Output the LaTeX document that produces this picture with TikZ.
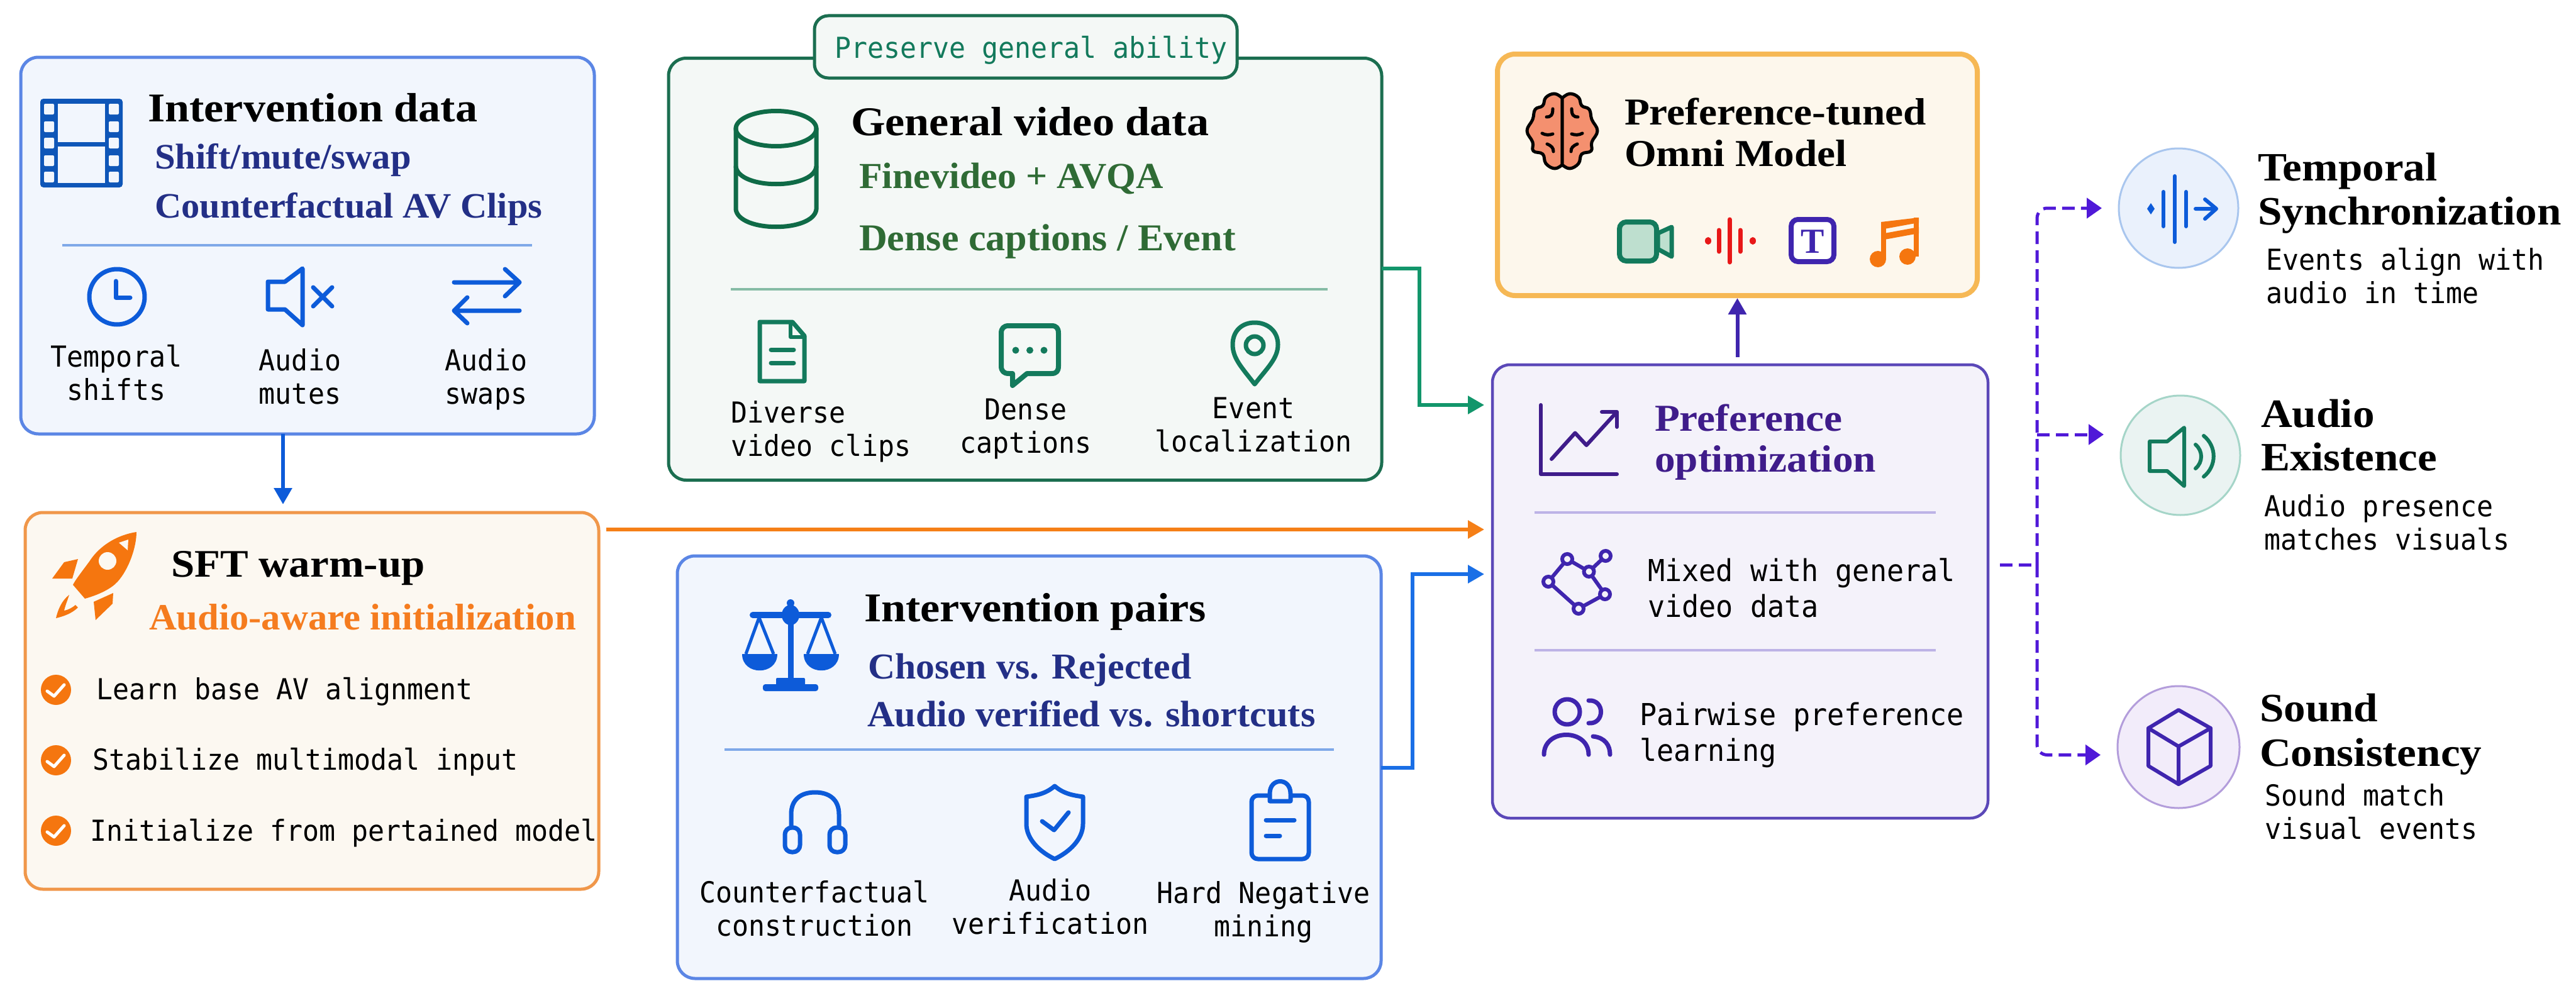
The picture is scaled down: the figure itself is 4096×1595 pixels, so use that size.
\documentclass[tikz,border=0pt]{standalone}
\usepackage{fontspec}
\usetikzlibrary{arrows.meta,calc}
\setmainfont{Liberation Serif}
\newfontfamily\ttlfam[FakeStretch=1.08]{Liberation Serif}
\newfontfamily\subfam[FakeStretch=1.03]{Liberation Serif}
\newfontfamily\monofam[FakeStretch=0.94]{DejaVu Sans Mono}
\newcommand\TT[2]{\ttlfam\bfseries\fontsize{#1}{#2}\selectfont}
\newcommand\SB[1]{\subfam\bfseries\fontsize{#1}{#1}\selectfont}
\newcommand\MN[2]{\monofam\fontsize{#1}{#2}\selectfont}
\definecolor{iblue}{HTML}{0D5BD9}
\definecolor{iblued}{HTML}{0F56B8}
\definecolor{bbord}{HTML}{5B86E5}
\definecolor{bfill}{HTML}{F2F6FD}
\definecolor{bsub}{HTML}{232F86}
\definecolor{bdiv}{HTML}{7FA8E8}
\definecolor{obord}{HTML}{F0974A}
\definecolor{ofill}{HTML}{FCF8F1}
\definecolor{oicon}{HTML}{F5760F}
\definecolor{osub}{HTML}{F57C1F}
\definecolor{gbord}{HTML}{1B6E50}
\definecolor{gfill}{HTML}{F4F8F6}
\definecolor{gsub}{HTML}{2F6B35}
\definecolor{gdiv}{HTML}{85BBA5}
\definecolor{gicon}{HTML}{137A5C}
\definecolor{gdark}{HTML}{0F6B47}
\definecolor{gconn}{HTML}{12966B}
\definecolor{vidfill}{HTML}{BEDFCF}
\definecolor{yboard}{HTML}{F6B855}
\definecolor{yfill}{HTML}{FDF7EC}
\definecolor{pbord}{HTML}{5B48B8}
\definecolor{pfill}{HTML}{F4F2FA}
\definecolor{psub}{HTML}{3F1C8A}
\definecolor{pdiv}{HTML}{BDB3E6}
\definecolor{picon}{HTML}{3F25AE}
\definecolor{pdash}{HTML}{5019D8}
\definecolor{oconn}{HTML}{F57F17}
\definecolor{bconn}{HTML}{1A6FE6}
\definecolor{brainf}{HTML}{F4906F}
\definecolor{wavered}{HTML}{E81818}
\definecolor{hbf}{HTML}{EAF1FC}
\definecolor{hbd}{HTML}{A9C6EE}
\definecolor{hgf}{HTML}{EAF3F2}
\definecolor{hgd}{HTML}{A5D5C8}
\definecolor{hpf}{HTML}{F2ECFA}
\definecolor{hpd}{HTML}{B39DDB}
\tikzset{
 panel/.style={draw,rounded corners=28,line width=5,inner sep=0,outer sep=0},
 ttl/.style={anchor=base west,inner sep=0,outer sep=0,align=left,text=black},
 subt/.style={anchor=base west,inner sep=0,outer sep=0},
 lab/.style={anchor=base,inner sep=0,outer sep=0,align=center,text=black,font=\MN{46}{53}},
 labl/.style={anchor=base west,inner sep=0,outer sep=0,align=left,text=black,font=\MN{46}{53}},
 divd/.style={line width=4},
 conn/.style={line width=6,-{Triangle[length=26,width=28]}},
 dashc/.style={pdash,line width=5,dash pattern=on 20pt off 10pt,-{Triangle[length=24,width=32]},rounded corners=16},
 icon/.style={line width=7,line cap=round,line join=round},
 halo/.style={circle,draw,line width=3,inner sep=0,outer sep=0,minimum size=190},
}
\begin{document}
\begin{tikzpicture}[x=1pt,y=-1pt]
\useasboundingbox (0,0) rectangle (4096,1595);
\fill[white] (0,0) rectangle (4096,1595);

% panels
\node[panel,draw=bbord,fill=bfill,minimum width=912,minimum height=599] (b1) at (489,390.5) {};
\node[panel,draw=obord,fill=ofill,minimum width=912,minimum height=599] (b2) at (496,1114.5) {};
\node[panel,draw=gbord,fill=gfill,minimum width=1134,minimum height=671] (b3) at (1630,428) {};
\node[panel,draw=gbord,fill=gfill,rounded corners=22,minimum width=672,minimum height=99] (tag) at (1631,74.5) {};
\node[panel,draw=bbord,fill=bfill,minimum width=1119,minimum height=672] (b4) at (1636.5,1220) {};
\node[panel,draw=yboard,fill=yfill,line width=8,minimum width=763,minimum height=384] (b5) at (2762.5,278) {};
\node[panel,draw=pbord,fill=pfill,line width=4.5,minimum width=788,minimum height=721] (b6) at (2767,940.5) {};
\node[halo,draw=hbd,fill=hbf] (c1) at (3464,331) {};
\node[halo,draw=hgd,fill=hgf] (c2) at (3467,724) {};
\node[halo,draw=hpd,fill=hpf,minimum size=194] (c3) at (3464,1188) {};

% helper coordinates for connectors
\coordinate (xa) at (450,0);
\coordinate (yo) at (0,842);
\coordinate (yg) at (0,427);
\coordinate (yg2) at (0,644);
\coordinate (xg) at (2257,0);
\coordinate (yb) at (0,1221);
\coordinate (yb2) at (0,913);
\coordinate (xb) at (2246,0);
\coordinate (j) at (3239,898);
\coordinate (ym) at (0,691);
\coordinate (yl) at (0,1200.5);

% connectors
\draw[conn,iblue,shorten >=13] (b1.south -| xa) -- (b2.north -| xa);
\draw[conn,oconn,shorten <=12,shorten >=13] (b2.east |- yo) -- (b6.west |- yo);
\draw[conn,gconn,shorten >=13] (b3.east |- yg) -- (xg |- yg) -- (xg |- yg2) -- (b6.west |- yg2);
\draw[conn,bconn,shorten >=13] (b4.east |- yb) -- (xb |- yb) -- (xb |- yb2) -- (b6.west |- yb2);
\draw[conn,picon,shorten <=12,shorten >=4] (b6.north -| b5.south) -- (b5.south);
\draw[dashc,-,shorten <=19] (b6.east |- j) -- (j);
\draw[dashc,shorten >=27] (j) |- (c1.west);
\draw[dashc,shorten >=27] (j |- ym) -- (c2.west |- ym);
\draw[dashc,shorten >=27] (j) |- (c3.west |- yl);

% ---------- Intervention data
\node[ttl,font=\TT{65}{70}] (t1) at (235,193) {Intervention data};
\node[subt,font=\SB{57},text=bsub] (s1a) at (246,268) {Shift/mute/swap};
\node[subt,font=\SB{56.8},text=bsub] (s1b) at (246,346) {Counterfactual AV Clips};
\draw[divd,bdiv] (99,390) -- (846,390);
% film
\fill[iblued,rounded corners=5] (64,157) rectangle (195,298);
\fill[bfill] (92,165) rectangle (167,226);
\fill[bfill] (92,233) rectangle (167,291);
\foreach \yy in {165,193,219,247,273}{
 \fill[bfill,rounded corners=2] (70,\yy) rectangle (86,\yy+17);
 \fill[bfill,rounded corners=2] (173,\yy) rectangle (189,\yy+17);
}
% clock
\draw[icon,iblue] (186,472) circle (44);
\draw[icon,iblue] (184,447) -- (184,473) -- (207,473);
% mute
\draw[icon,iblue] (426,448) -- (453,448) -- (481,427) -- (481,517) -- (453,492) -- (426,492) -- cycle;
\draw[icon,iblue] (498,457) -- (528,487) (528,457) -- (498,487);
% swap
\draw[icon,iblue] (722,449) -- (826,449) (803,428) -- (826,449) -- (803,471);
\draw[icon,iblue] (826,494) -- (722,494) (743,473) -- (722,494) -- (743,514);
\node[lab] (l1a) at (185,636) {Temporal\\shifts};
\node[lab] (l1b) at (477,642) {Audio\\mutes};
\node[lab] (l1c) at (773,642) {Audio\\swaps};

% ---------- SFT warm-up
\node[ttl,font=\TT{62}{70}] (t2) at (272,917) {SFT warm-up};
\node[subt,font=\SB{59},text=osub] (s2) at (237,1001) {Audio-aware initialization};
% rocket
\fill[oicon] (217,846) .. controls (190,850) and (160,865) .. (142,893) .. controls (128,912) and (120,922) .. (116,930) -- (135,952) .. controls (160,945) and (178,935) .. (187,925) .. controls (205,905) and (217,870) .. (217,846) -- cycle;
\fill[ofill] (171,892) circle (14);
\fill[ofill] (204,858) -- (189,863) -- (203,875) -- cycle;
\fill[oicon] (124,889) -- (102,894) -- (83,920) -- (115,920) -- cycle;
\fill[oicon] (180,943) -- (149,957) -- (152,986) -- (179,960) -- cycle;
\fill[oicon] (110,946) .. controls (98,955) and (92,970) .. (89,983) .. controls (102,980) and (115,975) .. (124,966) -- (120,962) .. controls (114,967) and (108,970) .. (102,971) .. controls (104,962) and (108,953) .. (110,946) -- cycle;
% check bullets
\foreach \yy in {1097,1209,1321}{
 \fill[oicon] (89,\yy) circle (24);
 \draw[white,line width=5,line cap=round,line join=round] (75,\yy+2) -- (86,\yy+10) -- (102,\yy-8);
}
\node[labl] (l2a) at (153,1112) {Learn base AV alignment};
\node[labl] (l2b) at (147,1224) {Stabilize multimodal input};
\node[labl] (l2c) at (143,1337) {Initialize from pertained model};

% ---------- General video data
\node[subt,font=\MN{46}{53},text=gicon] (tagt) at (1327,92.5) {Preserve general ability};
\node[ttl,font=\TT{65}{70}] (t3) at (1353,215) {General video data};
\node[subt,font=\SB{58.3},text=gsub] (s3a) at (1366,299) {Finevideo + AVQA};
\node[subt,font=\SB{60.3},text=gsub] (s3b) at (1366,398) {Dense captions / Event};
\draw[divd,gdiv] (1162,460) -- (2111,460);
% cylinder
\draw[icon,gdark] (1234,176.5) .. controls (1269,176.5) and (1298,189) .. (1298,204.5) .. controls (1298,220) and (1269,232.5) .. (1234,232.5) .. controls (1199,232.5) and (1170,220) .. (1170,204.5) .. controls (1170,189) and (1199,176.5) .. (1234,176.5) -- cycle;
\draw[icon,gdark] (1170,204) -- (1170,333) .. controls (1175,370) and (1293,370) .. (1298,333) -- (1298,204);
\draw[icon,gdark] (1170,265) .. controls (1175,302) and (1293,302) .. (1298,265);
% doc
\draw[icon,gicon,line width=7] (1260,512) -- (1216,512) -- (1208,512) -- (1208,606) -- (1279,606) -- (1279,534) -- cycle;
\draw[icon,gicon,line width=6] (1257,512) -- (1257,536) -- (1279,536);
\draw[icon,gicon,line width=7] (1226,556) -- (1262,556) (1226,577) -- (1262,577);
% chat
\draw[icon,gicon,line width=8,line join=round] (1633,594) -- (1672,594) .. controls (1680,594) and (1683,590) .. (1683,582) -- (1683,530) .. controls (1683,522) and (1680,518) .. (1672,518) -- (1604,518) .. controls (1596,518) and (1592,522) .. (1592,530) -- (1592,582) .. controls (1592,590) and (1596,594) .. (1604,594) -- (1610,594) -- (1610,613) -- cycle;
\foreach \xx in {1615,1637.5,1660}{\fill[gicon] (\xx,557) circle (5.5);}
% pin
\draw[icon,gicon,line width=7] (1995,611) .. controls (1975,585) and (1960,570) .. (1960,548) .. controls (1960,526) and (1975,513) .. (1995,513) .. controls (2015,513) and (2032,526) .. (2032,548) .. controls (2032,570) and (2015,585) .. (1995,611) -- cycle;
\draw[gicon,line width=7] (1995,549) circle (14);
\node[labl] (l3a) at (1162,725) {Diverse\\video clips};
\node[lab] (l3b) at (1631,720) {Dense\\captions};
\node[lab] (l3c) at (1993,718) {Event\\localization};

% ---------- Intervention pairs
\node[ttl,font=\TT{65}{70}] (t4) at (1374,988) {Intervention pairs};
\node[subt,font=\SB{58},text=bsub] (s4a) at (1380,1079) {Chosen vs. Rejected};
\node[subt,font=\SB{58.6},text=bsub] (s4b) at (1379,1155) {Audio verified vs. shortcuts};
\draw[divd,bdiv] (1152,1192) -- (2121,1192);
% scales
\draw[iblue,line width=9] (1257,956) -- (1257,1086);
\draw[iblue,line width=10,line cap=round] (1197,978) -- (1317,978);
\fill[iblue] (1257,978) ellipse (14 and 16);
\fill[iblue] (1257,959) circle (6);
\draw[iblue,line width=5,line join=round] (1186,1040) -- (1207,982) -- (1230,1040);
\draw[iblue,line width=5,line join=round] (1284,1040) -- (1306,982) -- (1328,1040);
\fill[iblue] (1180,1040) -- (1236,1040) .. controls (1236,1075) and (1180,1075) .. (1180,1040) -- cycle;
\fill[iblue] (1278,1040) -- (1334,1040) .. controls (1334,1075) and (1278,1075) .. (1278,1040) -- cycle;
\fill[iblue,rounded corners=2] (1234,1078) rectangle (1280,1092);
\fill[iblue,rounded corners=4] (1213,1088) rectangle (1301,1099);
% headphones
\draw[icon,iblue] (1258,1316) -- (1258,1295) .. controls (1258,1270) and (1275,1260) .. (1296,1260) .. controls (1317,1260) and (1334,1270) .. (1334,1295) -- (1334,1316);
\draw[icon,iblue,rounded corners=11] (1248,1316) rectangle (1272,1355);
\draw[icon,iblue,rounded corners=11] (1319,1316) rectangle (1344,1355);
% shield
\draw[icon,iblue] (1677,1250) .. controls (1692,1263) and (1708,1265) .. (1722,1267) -- (1722,1310) .. controls (1722,1335) and (1700,1355) .. (1677,1366) .. controls (1654,1355) and (1632,1335) .. (1632,1310) -- (1632,1267) .. controls (1646,1265) and (1662,1263) .. (1677,1250) -- cycle;
\draw[icon,iblue] (1657,1306) -- (1676,1320) -- (1699,1292);
% clipboard
\draw[icon,iblue,rounded corners=10] (1990,1265) rectangle (2081,1366);
\draw[icon,iblue,fill=bfill] (2019,1274) -- (2019,1262) .. controls (2019,1236) and (2052,1236) .. (2052,1262) -- (2052,1274) -- cycle;
\draw[icon,iblue] (2013,1304) -- (2058,1304) (2013,1329) -- (2035,1329);
\node[lab] (l4a) at (1295,1488) {Counterfactual\\construction};
\node[lab] (l4b) at (1670,1485) {Audio\\verification};
\node[lab] (l4c) at (2009,1489) {Hard Negative\\mining};

% ---------- Omni model
\node[ttl,font=\TT{60.5}{66}] (t5) at (2583,264) {Preference-tuned\\Omni Model};
% brain
\foreach \ss in {-1,1}{
\begin{scope}[shift={(2484,0)},xscale=\ss]
 \draw[fill=brainf,line width=5,line join=round] plot[smooth,tension=.7] coordinates {(0,156)(12,149)(26,155)(31,168)(43,174)(47,190)(56,208)(47,226)(46,240)(31,245)(26,260)(12,268)(0,262)} -- cycle;
 \draw[line width=5,line cap=round] (15,173) .. controls (15,183) and (18,186) .. (25,186);
 \draw[line width=5,line cap=round] (32,212) .. controls (27,215) and (20,215) .. (15,213);
 \draw[line width=5,line cap=round] (24,229) .. controls (17,232) and (14,235) .. (14,241);
\end{scope}}
% video
\draw[gicon,line width=7,line join=round,fill=vidfill] (2636,371) -- (2658,361) -- (2658,408) -- (2636,396) -- cycle;
\draw[gicon,line width=8,fill=vidfill,rounded corners=11] (2575,353) rectangle (2634,415);
% wave
\draw[wavered,line width=7,line cap=round] (2750,349) -- (2750,417) (2733,366) -- (2733,400) (2767,366) -- (2767,400);
\fill[wavered] (2716,383) ellipse (5 and 6);
\fill[wavered] (2787,383) ellipse (5 and 6);
% T
\draw[picon,line width=8,fill=white,rounded corners=11] (2848,349) rectangle (2916,416);
\node[anchor=base,inner sep=0,text=picon,font=\fontsize{56}{56}\selectfont\bfseries] (tic) at (2882,402) {T};
% music
\fill[oicon] (2986,412) ellipse (13 and 13);
\fill[oicon] (3033,408) ellipse (13 and 13);
\draw[oicon,line width=8] (2995,355) -- (2995,412) (3047,346) -- (3047,408);
\fill[oicon] (2991,353) -- (3051,346) -- (3051,354) -- (2991,365) -- cycle;
\fill[oicon] (2991,372) -- (3051,361) -- (3051,371) -- (2991,382) -- cycle;

% ---------- Preference optimization
\node[ttl,text=psub,font=\TT{60.5}{65}] (t6) at (2631,750) {Preference\\optimization};
\draw[divd,pdiv] (2440,815) -- (3078,815);
\draw[divd,pdiv] (2440,1034) -- (3078,1034);
\draw[icon,psub,line width=6] (2450,644) -- (2450,754) -- (2571,754);
\draw[icon,psub,line width=6] (2467,730) -- (2504.5,688.5) -- (2522.5,708) -- (2570,656);
\draw[icon,psub,line width=6] (2547,655) -- (2571,655) -- (2571,679);
% graph
\draw[picon,line width=6] (2492,889) -- (2526.5,909) -- (2553,884) (2526.5,909) -- (2552,945) -- (2510,968) -- (2462,925) -- (2492,889);
\foreach \p in {(2492,889),(2553,884),(2526.5,909),(2462,925),(2552,945),(2510,968)}{
 \draw[picon,line width=6,fill=pfill] \p circle (8);
}
\node[labl,font=\MN{48}{57}] (l6a) at (2620,981) {Mixed with general\\video data};
% users
\draw[icon,picon,line width=7] (2492,1132) circle (20);
\draw[icon,picon,line width=7] (2526,1114) .. controls (2552,1112) and (2552,1152) .. (2526,1150);
\draw[icon,picon,line width=7] (2455,1200) .. controls (2455,1158) and (2526,1158) .. (2526,1200);
\draw[icon,picon,line width=7] (2533,1171) .. controls (2552,1173) and (2560,1185) .. (2560,1200);
\node[labl,font=\MN{48}{57}] (l6b) at (2607,1210) {Pairwise preference\\learning};

% ---------- Outcomes
% c1 icon
\draw[icon,iblue,line width=6] (3458,280) -- (3458,385) (3440,305) -- (3440,360) (3476,305) -- (3476,360);
\fill[iblue] (3420,323) -- (3426,332) -- (3420,341) -- (3414,332) -- cycle;
\draw[icon,iblue,line width=6] (3491,332) -- (3524,332) (3506,317) -- (3524,332) -- (3506,348);
% c2 icon
\draw[icon,gicon,line width=6] (3418,702) -- (3446,702) -- (3473,680) -- (3473,773) -- (3446,749) -- (3418,749) -- cycle;
\draw[icon,gicon,line width=6] (3491,707) .. controls (3503,717) and (3503,735) .. (3491,745);
\draw[icon,gicon,line width=6] (3504,693) .. controls (3525,710) and (3525,741) .. (3504,758);
% c3 icon
\draw[icon,picon,line width=6] (3464,1129) -- (3515,1158) -- (3515,1218) -- (3464,1247) -- (3416,1218) -- (3416,1158) -- cycle;
\draw[icon,picon,line width=6] (3416,1158) -- (3464,1187) -- (3515,1158) (3464,1187) -- (3464,1247);
% texts
\node[ttl,font=\TT{64}{70}] (t7) at (3590,357) {Temporal\\Synchronization};
\node[labl] (l7) at (3603,482) {Events align with\\audio in time};
\node[ttl,font=\TT{64}{69}] (t8) at (3595,748) {Audio\\Existence};
\node[labl] (l8) at (3600,874) {Audio presence\\matches visuals};
\node[ttl,font=\TT{64}{71}] (t9) at (3593,1218) {Sound\\Consistency};
\node[labl] (l9) at (3601,1334) {Sound match\\visual events};
\end{tikzpicture}
\end{document}
